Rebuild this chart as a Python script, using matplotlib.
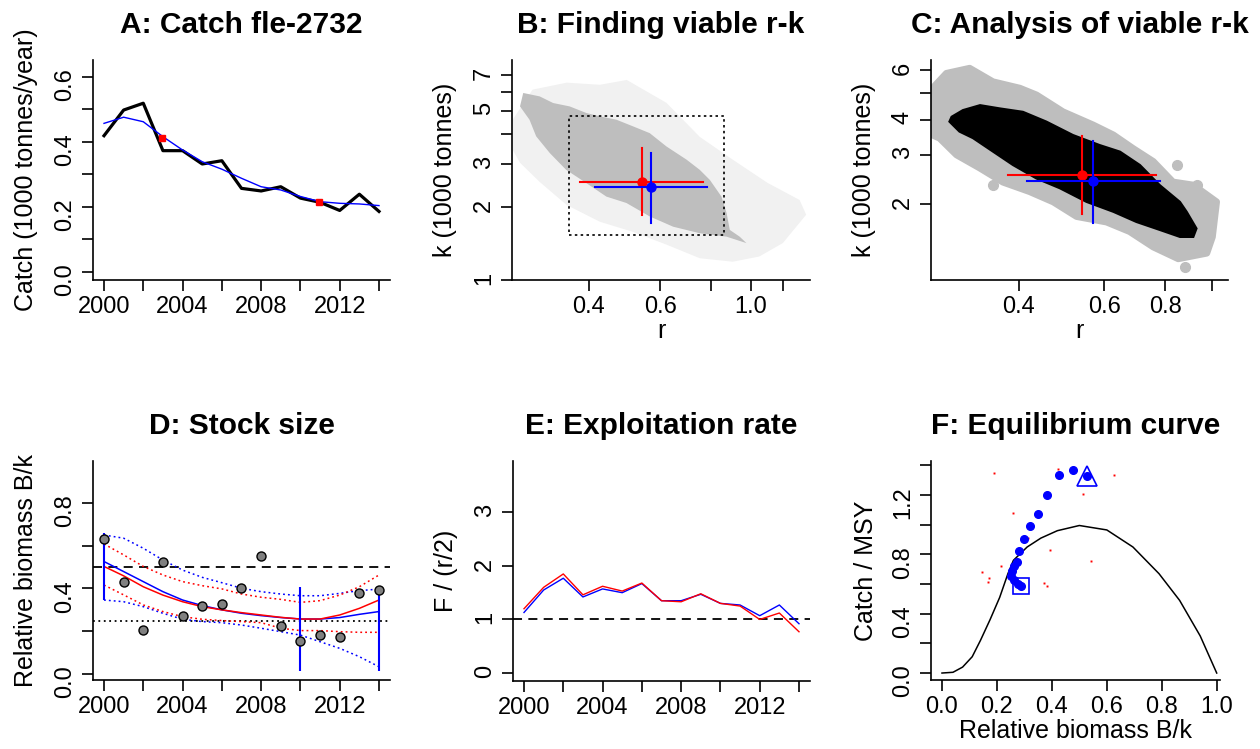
import matplotlib
matplotlib.use('Agg')
import matplotlib.pyplot as plt
from matplotlib.ticker import NullLocator

plt.rcParams['font.family'] = ['Liberation Sans', 'DejaVu Sans']

# ---- data ----
years = list(range(2000, 2015))

# A: catch
catch = [0.419, 0.498, 0.519, 0.373, 0.373, 0.332, 0.342, 0.257, 0.249, 0.262,
         0.227, 0.214, 0.189, 0.239, 0.186]
catch_smooth = [0.457, 0.476, 0.462, 0.416, 0.375, 0.339, 0.316, 0.288, 0.262, 0.252,
                0.232, 0.216, 0.211, 0.209, 0.204]
catch_mark_years = [2002.93, 2010.95]
catch_marks = [0.413, 0.216]

# B: r-k space
b_all_r = [0.26, 0.26, 0.291, 0.353, 0.426, 0.496, 0.621, 0.75, 0.904, 1.10, 1.32, 1.37,
           1.2, 1.05, 0.904, 0.75, 0.621, 0.514, 0.426, 0.353, 0.303, 0.271]
b_all_k = [3.45, 4.59, 6.11, 6.53, 6.4, 6.7, 5.39, 3.9, 3.14, 2.52, 2.14, 1.86,
           1.42, 1.25, 1.19, 1.23, 1.40, 1.58, 1.74, 2.04, 2.54, 3.05]
b_viable_r = [0.276, 0.303, 0.327, 0.359, 0.395, 0.426, 0.468, 0.514, 0.565, 0.621, 0.696,
              0.75, 0.794, 0.848, 0.873, 0.889, 0.94, 0.977,
              0.873, 0.75, 0.645, 0.565, 0.495, 0.442, 0.395, 0.352, 0.321, 0.297, 0.286, 0.271]
b_viable_k = [5.92, 5.73, 5.38, 5.21, 4.89, 4.74, 4.59, 4.31, 4.04, 3.56, 3.14,
              2.85, 2.59, 2.21, 1.89, 1.61, 1.51, 1.42,
              1.51, 1.56, 1.66, 1.83, 2.08, 2.21, 2.51, 2.85, 3.34, 3.92, 4.59, 5.21]
prior_r = [0.357, 0.861]
prior_k = [1.54, 4.75]

# C: viable r-k analysis
c_grey_r = [0.266, 0.284, 0.317, 0.354, 0.402, 0.435, 0.493, 0.569, 0.626, 0.687, 0.756,
            0.83, 0.914, 1.02, 1.0, 0.974, 0.851, 0.756, 0.676, 0.606, 0.526, 0.471,
            0.421, 0.371, 0.333, 0.298, 0.275, 0.266]
c_grey_k = [5.18, 5.85, 6.1, 5.46, 5.18, 4.90, 4.27, 3.83, 3.53, 3.16, 2.84,
            2.4, 2.34, 2.04, 1.53, 1.34, 1.28, 1.41, 1.6, 1.73, 1.81, 2.04,
            2.22, 2.4, 2.69, 3.0, 3.44, 3.53]
c_grey_out_r = [0.844, 0.354, 0.928, 0.88]
c_grey_out_k = [2.76, 2.34, 2.34, 1.2]
c_black_r = [0.291, 0.307, 0.333, 0.366, 0.408, 0.456, 0.517, 0.587, 0.646, 0.71, 0.78,
             0.858, 0.886, 0.928, 0.914, 0.858, 0.78, 0.698, 0.626, 0.551, 0.486, 0.435,
             0.389, 0.354, 0.322, 0.302, 0.288]
c_black_k = [4.1, 4.33, 4.51, 4.39, 4.27, 3.94, 3.53, 3.25, 3.08, 2.76, 2.34,
             2.04, 1.88, 1.64, 1.53, 1.53, 1.62, 1.73, 1.88, 2.04, 2.28, 2.47,
             2.76, 3.08, 3.44, 3.63, 3.94]

# best estimates with 95% ranges (red: CMSY, blue: BSM)
red_r, red_r_lo, red_r_hi = 0.54, 0.381, 0.765
red_k, red_k_lo, red_k_hi = 2.55, 1.85, 3.51
blue_r, blue_r_lo, blue_r_hi = 0.569, 0.415, 0.78
blue_k, blue_k_lo, blue_k_hi = 2.42, 1.72, 3.36

# D: relative biomass
bk_obs = [0.633, 0.43, 0.206, 0.524, 0.271, 0.318, 0.327, 0.402, 0.552, 0.225,
          0.154, 0.182, 0.173, 0.379, 0.393]
bk_blue = [0.526, 0.479, 0.432, 0.385, 0.346, 0.32, 0.30, 0.284, 0.273, 0.264,
           0.257, 0.257, 0.264, 0.279, 0.292]
bk_blue_hi = [0.65, 0.635, 0.588, 0.533, 0.486, 0.452, 0.427, 0.401, 0.385, 0.374,
              0.366, 0.366, 0.377, 0.39, 0.397]
bk_blue_lo = [0.346, 0.338, 0.315, 0.284, 0.256, 0.245, 0.24, 0.229, 0.214, 0.198,
              0.182, 0.151, 0.12, 0.081, 0.034]
bk_red = [0.503, 0.459, 0.408, 0.369, 0.338, 0.315, 0.30, 0.287, 0.276, 0.265,
          0.257, 0.257, 0.276, 0.307, 0.346]
bk_red_hi = [0.608, 0.557, 0.503, 0.463, 0.432, 0.413, 0.398, 0.374, 0.359, 0.349,
             0.335, 0.343, 0.369, 0.408, 0.463]
bk_red_lo = [0.416, 0.37, 0.323, 0.292, 0.268, 0.256, 0.25, 0.245, 0.24, 0.214,
             0.203, 0.203, 0.198, 0.195, 0.195]
bk_prior_years = [2000, 2010, 2014]
bk_prior_lo = [0.346, 0.015, 0.015]
bk_prior_hi = [0.658, 0.405, 0.40]

# E: exploitation rate
f_red = [1.2, 1.6, 1.85, 1.46, 1.62, 1.53, 1.68, 1.35, 1.33, 1.48, 1.3, 1.25, 1.0, 1.12, 0.77]
f_blue = [1.13, 1.55, 1.77, 1.42, 1.57, 1.5, 1.67, 1.35, 1.35, 1.47, 1.3, 1.27, 1.07, 1.27, 0.92]

# F: equilibrium curve
eq_bk = [0.0, 0.04, 0.075, 0.11, 0.14, 0.175, 0.21, 0.24, 0.26, 0.31, 0.36, 0.42,
         0.50, 0.60, 0.695, 0.79, 0.865, 0.94, 1.0]
eq_cmsy = [0.0, 0.005, 0.04, 0.11, 0.22, 0.36, 0.51, 0.67, 0.76, 0.85, 0.91, 0.96,
           0.995, 0.965, 0.85, 0.67, 0.49, 0.25, 0.0]
traj_bk = [0.528, 0.478, 0.427, 0.383, 0.349, 0.321, 0.297, 0.28, 0.272, 0.262,
           0.255, 0.253, 0.262, 0.275, 0.287]
traj_cmsy = [1.328, 1.369, 1.337, 1.2, 1.072, 0.991, 0.906, 0.822, 0.75, 0.72,
             0.69, 0.655, 0.625, 0.6, 0.587]
red_pts_bk = [0.189, 0.423, 0.625, 0.513, 0.257, 0.318, 0.314, 0.393, 0.215, 0.147,
              0.171, 0.167, 0.372, 0.383, 0.541]
red_pts_cmsy = [1.347, 1.373, 1.333, 1.207, 1.081, 0.991, 0.913, 0.829, 0.724, 0.683,
                0.643, 0.616, 0.609, 0.587, 0.755]

W, H = 1260, 749
TICK = 17
LAB = 18
TITLE = 21.5


def add_panel(fig, x0, y0, x1, y1):
    ax = fig.add_axes([x0 / W, 1 - y1 / H, (x1 - x0) / W, (y1 - y0) / H])
    ax.spines['top'].set_visible(False)
    ax.spines['right'].set_visible(False)
    for s in ('left', 'bottom'):
        ax.spines[s].set_linewidth(1.2)
    ax.tick_params(length=8, width=1.2, labelsize=TICK, direction='out')
    ax.tick_params(axis='y', labelrotation=90, pad=4.3)
    ax.tick_params(axis='x', pad=3.3)
    return ax


def finish(ax, title, ylabel, xlabel=None):
    ax.set_title(title, fontsize=TITLE, fontweight='bold', pad=19.5)
    ax.set_ylabel(ylabel, fontsize=LAB)
    ax.yaxis.set_label_coords(-0.185, 0.5)
    if xlabel:
        ax.set_xlabel(xlabel, fontsize=LAB)
        ax.xaxis.set_label_coords(0.5, -0.179)


def year_axis(ax):
    ax.set_xlim(1999.44, 2014.56)
    ticks = list(range(2000, 2015, 2))
    ax.set_xticks(ticks)
    ax.set_xticklabels([str(t) if (t - 2000) % 4 == 0 else '' for t in ticks])


def set_y(ax, ticks, labels, lim):
    ax.set_ylim(*lim)
    ax.set_yticks(ticks)
    ax.set_yticklabels(labels)


def cross(ax, r, r_lo, r_hi, k, k_lo, k_hi, col):
    ax.plot([r_lo, r_hi], [k, k], color=col, lw=1.5)
    ax.plot([r, r], [k_lo, k_hi], color=col, lw=1.5)
    ax.plot([r], [k], 'o', color=col, ms=6.5)


fig = plt.figure(figsize=(W / 100, H / 100), dpi=100)

# ---- A ----
ax = add_panel(fig, 93, 60, 390, 280)
ax.plot(years, catch, color='black', lw=2.3)
ax.plot(years, catch_smooth, color='blue', lw=1.0)
ax.plot(catch_mark_years, catch_marks, 's', color='red', ms=4.5)
year_axis(ax)
set_y(ax, [0, 0.1, 0.2, 0.3, 0.4, 0.5, 0.6],
      ['0.0', '', '0.2', '', '0.4', '', '0.6'], (-0.025, 0.652))
finish(ax, 'A: Catch fle-2732', 'Catch (1000 tonnes/year)')

# ---- B ----
ax = add_panel(fig, 512, 60, 810, 280)
ax.set_xscale('log')
ax.set_yscale('log')
ax.fill(b_all_r, b_all_k, color='#f1f1f1', lw=0)
ax.fill(b_viable_r, b_viable_k, color='#bebebe', lw=0)
ax.plot([prior_r[0], prior_r[1], prior_r[1], prior_r[0], prior_r[0]],
        [prior_k[0], prior_k[0], prior_k[1], prior_k[1], prior_k[0]],
        color='black', lw=1.2, linestyle=(0, (1.5, 2)))
cross(ax, red_r, red_r_lo, red_r_hi, red_k, red_k_lo, red_k_hi, 'red')
cross(ax, blue_r, blue_r_lo, blue_r_hi, blue_k, blue_k_lo, blue_k_hi, 'blue')
ax.set_xlim(0.259, 1.40)
ax.set_ylim(1.0, 8.1)
ax.xaxis.set_minor_locator(NullLocator())
ax.yaxis.set_minor_locator(NullLocator())
ax.set_xticks([0.4, 0.6, 0.8, 1.0, 1.2])
ax.set_xticklabels(['0.4', '0.6', '', '1.0', ''])
ax.set_yticks([1, 2, 3, 4, 5, 6, 7])
ax.set_yticklabels(['1', '2', '3', '', '5', '', '7'])
finish(ax, 'B: Finding viable r-k', 'k (1000 tonnes)', 'r')

# ---- C ----
ax = add_panel(fig, 931, 60, 1228, 280)
ax.set_xscale('log')
ax.set_yscale('log')
ax.fill(c_grey_r, c_grey_k, facecolor='#bebebe', edgecolor='#bebebe', lw=5,
        joinstyle='round')
ax.plot(c_grey_out_r, c_grey_out_k, 'o', color='#bebebe', ms=7)
ax.fill(c_black_r, c_black_k, facecolor='black', edgecolor='black', lw=1.5)
cross(ax, red_r, red_r_lo, red_r_hi, red_k, red_k_lo, red_k_hi, 'red')
cross(ax, blue_r, blue_r_lo, blue_r_hi, blue_k, blue_k_lo, blue_k_hi, 'blue')
ax.set_xlim(0.264, 1.077)
ax.set_ylim(1.075, 6.53)
ax.xaxis.set_minor_locator(NullLocator())
ax.yaxis.set_minor_locator(NullLocator())
ax.set_xticks([0.4, 0.6, 0.8, 1.0])
ax.set_xticklabels(['0.4', '0.6', '0.8', ''])
ax.set_yticks([2, 3, 4, 5, 6])
ax.set_yticklabels(['2', '3', '4', '', '6'])
finish(ax, 'C: Analysis of viable r-k', 'k (1000 tonnes)', 'r')

# ---- D ----
ax = add_panel(fig, 93, 461, 390, 680)
ax.axhline(0.5, color='black', lw=1.3, dashes=(5, 3.5))
ax.axhline(0.25, color='black', lw=1.3, linestyle=(0, (1, 2)))
ax.plot(years, bk_blue_hi, color='blue', lw=1.1, linestyle=(0, (1.2, 2)))
ax.plot(years, bk_blue_lo, color='blue', lw=1.1, linestyle=(0, (1.2, 2)))
ax.plot(years, bk_red_hi, color='red', lw=1.1, linestyle=(0, (1.2, 2)))
ax.plot(years, bk_red_lo, color='red', lw=1.1, linestyle=(0, (1.2, 2)))
ax.plot(years, bk_blue, color='blue', lw=1.1)
ax.plot(years, bk_red, color='red', lw=1.1)
ax.vlines(bk_prior_years, bk_prior_lo, bk_prior_hi, color='blue', lw=1.5)
ax.plot(years, bk_obs, 'o', mfc='grey', mec='black', mew=1.0, ms=6.5)
year_axis(ax)
set_y(ax, [0, 0.2, 0.4, 0.6, 0.8], ['0.0', '', '0.4', '', '0.8'], (-0.028, 0.996))
finish(ax, 'D: Stock size', 'Relative biomass B/k')

# ---- E ----
ax = add_panel(fig, 513, 461, 810, 681)
ax.axhline(1.0, color='black', lw=1.3, dashes=(5, 3.5))
ax.plot(years, f_blue, color='blue', lw=1.0)
ax.plot(years, f_red, color='red', lw=1.0)
year_axis(ax)
set_y(ax, [0, 1, 2, 3], ['0', '1', '2', '3'], (-0.15, 3.96))
finish(ax, 'E: Exploitation rate', 'F / (r/2)')

# ---- F ----
ax = add_panel(fig, 931, 461, 1220, 680)
ax.plot(eq_bk, eq_cmsy, color='black', lw=1.1)
ax.plot(red_pts_bk, red_pts_cmsy, 's', color='red', ms=1.4, mew=0)
ax.plot(traj_bk, traj_cmsy, 'o', color='blue', ms=5.5)
ax.plot(traj_bk[0], traj_cmsy[0], '^', mfc='none', mec='blue', mew=1.2, ms=14)
ax.plot(traj_bk[-1], traj_cmsy[-1], 's', mfc='none', mec='blue', mew=1.2, ms=11)
ax.set_xlim(-0.04, 1.012)
ax.set_xticks([0, 0.2, 0.4, 0.6, 0.8, 1.0])
ax.set_xticklabels(['0.0', '0.2', '0.4', '0.6', '0.8', '1.0'])
set_y(ax, [0, 0.2, 0.4, 0.6, 0.8, 1.0, 1.2, 1.4],
      ['0.0', '', '0.4', '', '0.8', '', '1.2', ''], (-0.047, 1.43))
finish(ax, 'F: Equilibrium curve', 'Catch / MSY', 'Relative biomass B/k')

plt.savefig('out.png', dpi=100)
